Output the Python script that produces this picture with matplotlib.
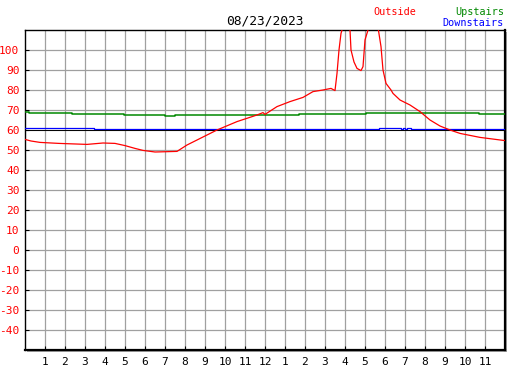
import matplotlib
matplotlib.use("Agg")
import matplotlib.pyplot as plt
from matplotlib.patches import Rectangle

plt.rcParams["axes.unicode_minus"] = False

# readings for 08/23/2023 (hour of day, deg F)
outside_hours = [0, 0.3, 0.75, 1.7, 3.1, 3.9, 4.5, 5.0, 5.5, 5.9, 6.5, 7.6, 8.1, 8.6,
                 9.6, 10.6, 11.6, 11.9, 12.0, 12.6, 13.25, 13.9, 14.4, 14.9, 15.3,
                 15.5, 15.6, 15.7, 15.8, 16.0, 16.25, 16.3, 16.45, 16.6, 16.8, 16.9,
                 17.0, 17.15, 17.4, 17.67, 17.8, 17.9, 18.05, 18.3, 18.4, 18.75,
                 19.25, 19.75, 20.25, 20.75, 21.25, 21.75, 22.75, 24.0]
outside_temp = [55.3, 54.5, 53.8, 53.3, 52.8, 53.5, 53.3, 52.2, 50.8, 49.8, 49.0, 49.3,
                52.5, 55.0, 60.0, 64.2, 67.5, 68.7, 67.8, 71.7, 74.2, 76.3, 79.2, 80.0,
                80.8, 79.7, 88.3, 100, 108.3, 115, 110, 100, 94, 90.8, 89.7, 91.7,
                105, 110, 116, 110, 101.7, 90, 83.3, 80, 78.3, 75, 72.5, 69.2, 65,
                62, 60, 58.3, 56.3, 54.7]

upstairs_hours = [0, 0.2, 2.35, 4.95, 7.0, 7.5, 13.7, 17.05, 22.7, 24]
upstairs_temp = [68.8, 68.3, 67.8, 67.3, 66.8, 67.3, 67.8, 68.5, 68.2, 68.2]

downstairs_hours = [0, 3.45, 17.7, 18.8, 18.9, 19.0, 19.1, 19.3, 24]
downstairs_temp = [60.8, 60.3, 60.8, 60.3, 60.8, 60.3, 60.8, 60.3, 60.3]

hour_ticks = list(range(1, 24))
hour_labels = [str(h if h <= 12 else h - 12) for h in hour_ticks]
temp_ticks = list(range(-40, 101, 10))

W, H = 527, 370
fig = plt.figure(figsize=(W / 100, H / 100), dpi=100)
fig.patch.set_facecolor("white")

x0, x1, y0, y1 = 25, 505, 30, 350   # plot box in pixels
ax = fig.add_axes([x0 / W, 1 - y1 / H, (x1 - x0) / W, (y1 - y0) / H])

# gray drop shadow behind the box
fig.patches.append(Rectangle(((x0 + 2) / W, 1 - (y1 + 2) / H), (x1 - x0) / W, (y1 - y0) / H,
                             transform=fig.transFigure, facecolor="#a0a0a0",
                             edgecolor="none", zorder=0))
ax.set_facecolor("white")
ax.set_zorder(1)

ax.set_xlim(0, 24)
ax.set_ylim(-50, 110)
ax.set_xticks(hour_ticks)
ax.set_xticklabels(hour_labels)
ax.set_yticks(temp_ticks)
ax.grid(True, color="#a0a0a0", linewidth=0.9)
ax.set_axisbelow(True)

ax.tick_params(axis="x", direction="in", length=3, width=0.8, color="black",
               labelsize=8, pad=5, labelcolor="black")
ax.tick_params(axis="y", direction="in", length=3, width=0.8, color="black",
               labelsize=8, pad=4, labelcolor="red")
for lab in ax.get_xticklabels() + ax.get_yticklabels():
    lab.set_family("DejaVu Sans Mono")

for side, lw in [("left", 1.0), ("top", 1.0), ("bottom", 1.6), ("right", 1.6)]:
    ax.spines[side].set_linewidth(lw)
    ax.spines[side].set_color("black")

ax.plot(upstairs_hours, upstairs_temp, color="#008800", linewidth=1.1,
        drawstyle="steps-post", zorder=3)
ax.plot(downstairs_hours, downstairs_temp, color="#0000ff", linewidth=0.9,
        drawstyle="steps-post", zorder=3)
ax.axhline(60, color="black", linewidth=0.7, zorder=3.5)
ax.plot(outside_hours, outside_temp, color="red", linewidth=0.9, zorder=4)

mono = "DejaVu Sans Mono"
fig.text((x0 + x1) / 2 / W, 1 - 24 / H, "08/23/2023", ha="center", va="baseline",
         fontsize=9.3, family=mono, color="black")
fig.text(373 / W, 1 - 15 / H, "Outside", ha="left", va="baseline",
         fontsize=7.3, family=mono, color="red")
fig.text(504 / W, 1 - 15 / H, "Upstairs", ha="right", va="baseline",
         fontsize=7.3, family=mono, color="#008800")
fig.text(504 / W, 1 - 26 / H, "Downstairs", ha="right", va="baseline",
         fontsize=7.3, family=mono, color="#0000ff")

fig.savefig("out.png", dpi=100)
